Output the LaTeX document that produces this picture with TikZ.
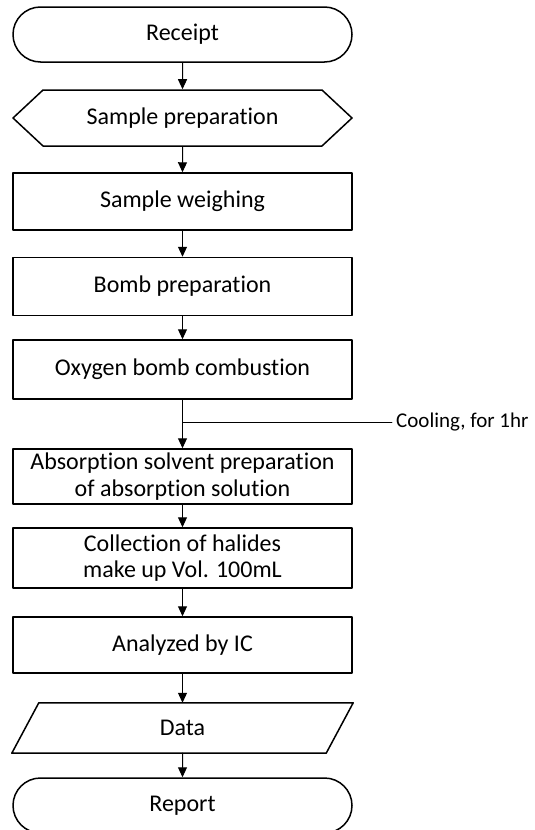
\documentclass[tikz,border=0pt]{standalone}
\usepackage{fontspec}
\setmainfont{Carlito}[Ligatures=NoCommon]
\usetikzlibrary{arrows.meta,shapes.symbols,shapes.misc}

\begin{document}
\begin{tikzpicture}[line cap=round,line join=round,>={Triangle[length=10pt,width=9pt]},x=1pt,y=-1pt,
		every node/.style={font=\fontsize{24}{26.5}\selectfont,align=center,inner sep=0pt},
		stepbox/.style={draw,line width=1.5pt,minimum width=339pt},
		term/.style={stepbox,rounded rectangle,minimum height=55pt},
		prepbox/.style={stepbox,signal,signal to=west and east,signal pointer angle=86,minimum height=56pt},
		databox/.style={minimum width=314pt,minimum height=50pt},
		note/.style={font=\fontsize{21}{24}\selectfont,anchor=west,inner sep=4pt}]
		\useasboundingbox (0,0) rectangle (535,830);
		\node[term] (receipt) at (182.5,34.5) {Receipt};
		\node[prepbox] (prep) at (182.5,118) {Sample preparation};
		\node[stepbox,minimum height=57pt] (weigh) at (182.5,201.5) {Sample weighing};
		\node[stepbox,minimum height=58pt] (bomb) at (182.5,286.5) {Bomb preparation};
		\node[stepbox,minimum height=59pt] (oxy) at (182.5,369.5) {Oxygen bomb combustion};
		\node[stepbox,minimum height=55pt] (absorb) at (182.5,476.5) {Absorption solvent preparation\\of absorption solution};
		\node[stepbox,minimum height=60pt] (collect) at (182.5,558) {Collection of halides\\make up Vol. 100mL};
		\node[stepbox,minimum height=56pt] (ic) at (182.5,645) {Analyzed by IC};
		\node[databox] (data) at (182.5,728) {Data};
		\draw [line width=1.5pt] ([xshift=13.5pt]data.north west) -- ([xshift=13.5pt]data.north east)
			-- ([xshift=-13.5pt]data.south east) -- ([xshift=-13.5pt]data.south west) -- cycle;
		\node[term] (report) at (182.5,805.5) {Report};
		% cooling note on the combustion step
		\coordinate (cool) at (182.5,422);
		\node[note] (coolnote) at (392,422) {Cooling, for 1hr};
		\foreach \a/\b in {receipt/prep,prep/weigh,weigh/bomb,bomb/oxy,oxy/absorb,absorb/collect,collect/ic,ic/data,data/report}
			\draw [line width=1pt,->] (\a) -- (\b);
		\draw [line width=0.8pt] (cool) -- (coolnote.west);
	\end{tikzpicture}
\end{document}
